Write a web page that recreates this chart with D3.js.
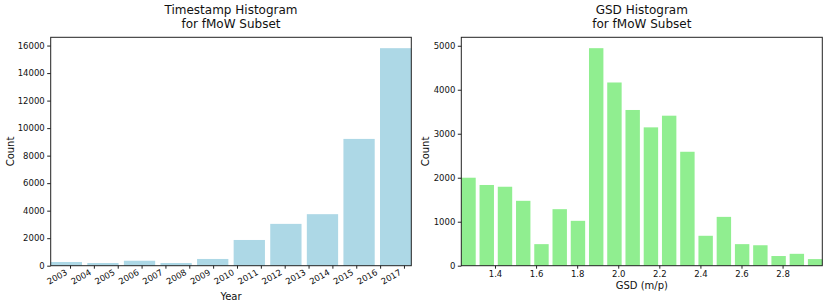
<!DOCTYPE html>
<html>
<head>
<meta charset="utf-8">
<script src="https://cdn.jsdelivr.net/npm/d3@7"></script>
<style>
  body { margin: 0; background: #fff; }
  text { font-family: "DejaVu Sans", sans-serif; fill: #111; }
  .axis path, .axis line { stroke: #222; }
</style>
</head>
<body>
<svg id="chart" width="830" height="307"></svg>
<script>
// ---- data ----
var yearCounts = [270, 195, 360, 195, 490, 1870, 3040, 3745, 9215, 15810];
var yearBinStart = 2002.19, yearBinWidth = 1.534;
var yearTicks = d3.range(2003, 2018);

var gsdCounts = [2000, 1835, 1795, 1475, 490, 1285, 1020, 4945, 4165, 3540,
                 3145, 3410, 2590, 680, 1110, 490, 465, 220, 270, 150];
var gsdBinStart = 1.236, gsdBinWidth = 0.0888;
var gsdTicks = [1.4, 1.6, 1.8, 2.0, 2.2, 2.4, 2.6, 2.8];

var svg = d3.select("#chart");

// draw one histogram panel
function histogram(opts) {
  var g = svg.append("g");
  var n = opts.counts.length;
  var x0 = opts.binStart,
      x1 = opts.binStart + (n - 1) * opts.binWidth + opts.frac * opts.binWidth;

  var x = d3.scaleLinear().domain([x0, x1]).range([opts.left, opts.right]);
  var y = d3.scaleLinear().domain([0, d3.max(opts.counts) * 1.05]).range([opts.bottom, opts.top]);

  // bars
  g.selectAll("rect.bar")
    .data(opts.counts)
    .enter().append("rect")
      .attr("class", "bar")
      .attr("x", function(d, i) { return x(opts.binStart + i * opts.binWidth); })
      .attr("width", function(d, i) {
        var s = opts.binStart + i * opts.binWidth;
        return x(s + opts.frac * opts.binWidth) - x(s);
      })
      .attr("y", function(d) { return y(d); })
      .attr("height", function(d) { return y(0) - y(d); })
      .attr("fill", opts.color);

  // y axis
  var yAxis = g.append("g")
    .attr("class", "axis")
    .attr("transform", "translate(" + opts.left + ",0)")
    .call(d3.axisLeft(y).tickValues(opts.yTicks).tickFormat(d3.format("d"))
      .tickSize(3.5).tickSizeOuter(0).tickPadding(2.5));
  yAxis.select(".domain").remove();
  yAxis.selectAll("text").style("font-size", "8.5px").style("font-family", "DejaVu Sans").attr("fill", "#111");

  // x axis
  var xAxis = g.append("g")
    .attr("class", "axis")
    .attr("transform", "translate(0," + opts.bottom + ")")
    .call(d3.axisBottom(x).tickValues(opts.xTicks).tickFormat(opts.xFormat)
      .tickSize(3).tickSizeOuter(0).tickPadding(3));
  xAxis.select(".domain").remove();
  var xt = xAxis.selectAll("text").style("font-size", "8.5px").style("font-family", "DejaVu Sans").attr("fill", "#111");
  if (opts.rotate) {
    xt.attr("text-anchor", "end")
      .attr("dy", null)
      .attr("y", 0)
      .attr("transform", "translate(-2.5,8.3) rotate(-30)");
  } else {
    xt.attr("y", 5).attr("dy", "0.71em");
  }

  // frame
  g.append("rect")
    .attr("x", opts.left).attr("y", opts.top)
    .attr("width", opts.right - opts.left).attr("height", opts.bottom - opts.top)
    .attr("fill", "none").attr("stroke", "#222").attr("stroke-width", 1);

  // titles and labels
  var cx = (opts.left + opts.right) / 2;
  g.append("text").attr("x", cx).attr("y", 14).attr("text-anchor", "middle")
    .style("font-size", "12px").text(opts.title[0]);
  g.append("text").attr("x", cx).attr("y", 27.5).attr("text-anchor", "middle")
    .style("font-size", "12px").text(opts.title[1]);

  g.append("text").attr("x", cx).attr("y", opts.xLabelY).attr("text-anchor", "middle")
    .style("font-size", "10px").text(opts.xLabel);
  g.append("text")
    .attr("transform", "translate(" + (opts.left - opts.yLabelOff) + "," + ((opts.top + opts.bottom) / 2) + ") rotate(-90)")
    .attr("text-anchor", "middle")
    .style("font-size", "10px").text("Count");
}

histogram({
  counts: yearCounts, binStart: yearBinStart, binWidth: yearBinWidth, frac: 0.855,
  left: 50.7, right: 411.3, top: 37.3, bottom: 265.7,
  color: "#ADD8E6",
  yTicks: d3.range(0, 16001, 2000),
  xTicks: yearTicks, xFormat: d3.format("d"), rotate: true,
  title: ["Timestamp Histogram", "for fMoW Subset"],
  xLabel: "Year", xLabelY: 300, yLabelOff: 36.5
});

histogram({
  counts: gsdCounts, binStart: gsdBinStart, binWidth: gsdBinWidth, frac: 0.79,
  left: 461.3, right: 822.3, top: 37.3, bottom: 265.7,
  color: "#90EE90",
  yTicks: d3.range(0, 5001, 1000),
  xTicks: gsdTicks, xFormat: d3.format(".1f"), rotate: false,
  title: ["GSD Histogram", "for fMoW Subset"],
  xLabel: "GSD (m/p)", xLabelY: 289, yLabelOff: 32
});
</script>
</body>
</html>
